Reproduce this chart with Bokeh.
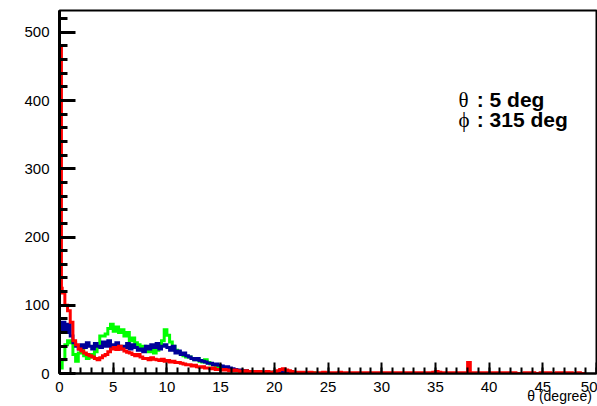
from bokeh.plotting import figure
from bokeh.models import Range1d, SingleIntervalTicker, Label, ColumnDataSource
from bokeh.embed import file_html
from bokeh.resources import INLINE

# ---- data (bin contents) ----
bin_width = 0.25
x_min, x_max = 0, 50
y_min, y_max = 0, 532

green_counts = [
    8, 20, 42, 48,   45, 28, 18, 30,   34, 26, 22, 28,   24, 32, 40, 55,
    55, 58, 66, 72,  62, 68, 60, 64,   55, 60, 48, 52,   45, 42, 38, 40,
    36, 32, 34, 30,  34, 44, 48, 64,   56, 46, 40, 34,   32, 28, 26, 24,
    24, 22, 20, 22,  18, 17, 20, 16,   14, 13, 10, 9,    8, 7, 6, 6,
    5, 5, 4, 4,      3, 4, 3, 3,       2, 3, 2, 2,       2, 1, 2, 1,
    1, 1, 0, 1,      1, 0, 1, 0,       0, 1, 0, 0,       0, 0, 1, 0,
    0, 0, 0, 0,
]

blue_counts = [
    62, 75, 60, 72,  55, 45, 40, 36,   42, 38, 45, 40,   36, 44, 40, 38,
    46, 40, 48, 38,  42, 45, 36, 40,   38, 44, 36, 42,   38, 34, 36, 32,
    40, 36, 42, 38,  44, 36, 40, 42,   38, 34, 40, 30,   33, 28, 30, 26,
    24, 22, 20, 22,  19, 18, 17, 15,   15, 13, 14, 12,   11, 9, 10, 8,
    7, 6, 5, 5,      4, 4, 3, 3,       3, 2, 3, 2,       2, 2, 1, 2,
    2, 3, 4, 3,      2, 1, 1, 1,       1, 0, 1, 0,       0, 1, 0, 0,
    0, 0, 0, 0,
]

red_fine_edges = [0.0, 0.08, 0.18]
red_fine_counts = [360, 480, 125]
red_counts = [  # bins from 0.25 upward
    118, 100, 92,
    75, 48, 42, 36,  33, 30, 28, 26,  24, 22, 20, 23,  26, 28, 32, 36,
    38, 35, 40, 36,  33, 31, 30, 28,  26, 28, 24, 22,  22, 20, 23, 21,
    20, 19, 21, 18,  19, 17, 18, 16,  16, 15, 14, 13,  13, 11, 12, 10,
    9, 10, 8, 8,     7, 8, 6, 6,      5, 6, 5, 4,      4, 5, 4, 3,
    3, 4, 3, 3,      2, 3, 3, 2,      2, 3, 2, 2,      3, 4, 6, 7,
    5, 4, 3, 2,      2, 1, 2, 1,      1, 2, 1, 1,      1, 1, 2, 1,
    1, 0, 1, 1,      2, 1, 1, 0,      1, 1, 0, 1,      1, 0, 1, 1,
    0, 1, 1, 0,      1, 1, 0, 1,      0, 1, 1, 1,      1, 0, 1, 0,
    1, 1, 0, 1,      0, 1, 1, 2,      3, 2, 1, 1,      0, 1, 1, 0,
    1, 0, 1, 1,      16, 1, 0, 1,     1, 0, 1, 0,      1, 0, 1, 1,
    0, 1, 0, 1,      1, 1, 0, 0,      0, 1, 1, 0,      1, 0, 0, 1,
    1, 0, 1, 0,      0, 1, 0, 1,      1, 0, 1, 0,      0, 1, 0, 0,
]

x_ticks_interval = 5
y_ticks_interval = 100
label_theta = "θ"
label_phi = "ϕ"
text_theta = ": 5 deg"
text_phi = ": 315 deg"
x_title = "θ (degree)"


def hist_path(edges, counts):
    xs, ys = [edges[0]], [0]
    for i, c in enumerate(counts):
        xs += [edges[i], edges[i + 1]]
        ys += [c, c]
    xs.append(edges[len(counts)])
    ys.append(0)
    return xs, ys


def uniform_edges(start, n):
    return [start + i * bin_width for i in range(n + 1)]


green_edges = uniform_edges(0.0, len(green_counts))
blue_edges = uniform_edges(0.0, len(blue_counts))
red_edges = red_fine_edges + uniform_edges(0.25, len(red_counts))
red_all = red_fine_counts + red_counts

p = figure(width=597, height=406, x_range=Range1d(x_min, x_max), y_range=Range1d(y_min, y_max),
           output_backend="svg", toolbar_location=None,
           min_border_left=59, min_border_right=1, min_border_top=10, min_border_bottom=33)
p.background_fill_color = "white"
p.border_fill_color = "white"
p.xgrid.visible = False
p.ygrid.visible = False
p.outline_line_color = "black"
p.outline_line_width = 2
p.outline_line_alpha = 1.0

for edges, counts, col in [(green_edges, green_counts, "#00ff00"),
                           (blue_edges, blue_counts, "#000099"),
                           (red_edges, red_all, "#ff0000")]:
    xs, ys = hist_path(edges, counts)
    src = ColumnDataSource(dict(x=xs, y=ys))
    p.line("x", "y", source=src, line_color=col, line_width=3, line_join="miter")

xa = p.xaxis[0]
xa.ticker = SingleIntervalTicker(interval=x_ticks_interval, num_minor_ticks=5)
xa.major_tick_in = 11
xa.major_tick_out = 0
xa.minor_tick_in = 6
xa.minor_tick_out = 0
xa.major_tick_line_width = 2
xa.minor_tick_line_width = 2
xa.axis_line_width = 2
xa.major_label_text_font = "Liberation Sans"
xa.major_label_text_font_size = "15px"
xa.major_label_text_color = "black"
xa.major_label_standoff = 8
# the axis title is centred on the frame's right end; trailing no-break
# spaces move the visible words to the left so they end near the frame edge
xa.axis_label = x_title + "\u00a0" * 19
xa.axis_label_text_font = "Liberation Sans"
xa.axis_label_text_font_size = "14px"
xa.axis_label_text_font_style = "normal"
xa.axis_label_text_color = "black"
xa.axis_label_standoff = -7
xa.axis_label_text_line_height = 1.0
if "axis_label_align" in xa.properties():
    xa.axis_label_align = "end"

ya = p.yaxis[0]
ya.ticker = SingleIntervalTicker(interval=y_ticks_interval, num_minor_ticks=5)
ya.major_tick_in = 16
ya.major_tick_out = 0
ya.minor_tick_in = 8
ya.minor_tick_out = 0
ya.major_tick_line_width = 3
ya.minor_tick_line_width = 3
ya.axis_line_width = 3
ya.major_label_text_font = "Liberation Sans"
ya.major_label_text_font_size = "15px"
ya.major_label_text_color = "black"
ya.major_label_standoff = 10

for sym, txt, yv in [(label_theta, text_theta, 401), (label_phi, text_phi, 372)]:
    p.add_layout(Label(x=37.15, y=yv, text=sym, text_font="Liberation Serif",
                       text_font_size="21px", text_color="black", text_baseline="alphabetic"))
    p.add_layout(Label(x=38.85, y=yv, text=txt, text_font="Liberation Sans",
                       text_font_size="21px", text_font_style="bold", text_color="black",
                       text_baseline="alphabetic"))

open("out.html", "w").write(file_html(p, INLINE))
